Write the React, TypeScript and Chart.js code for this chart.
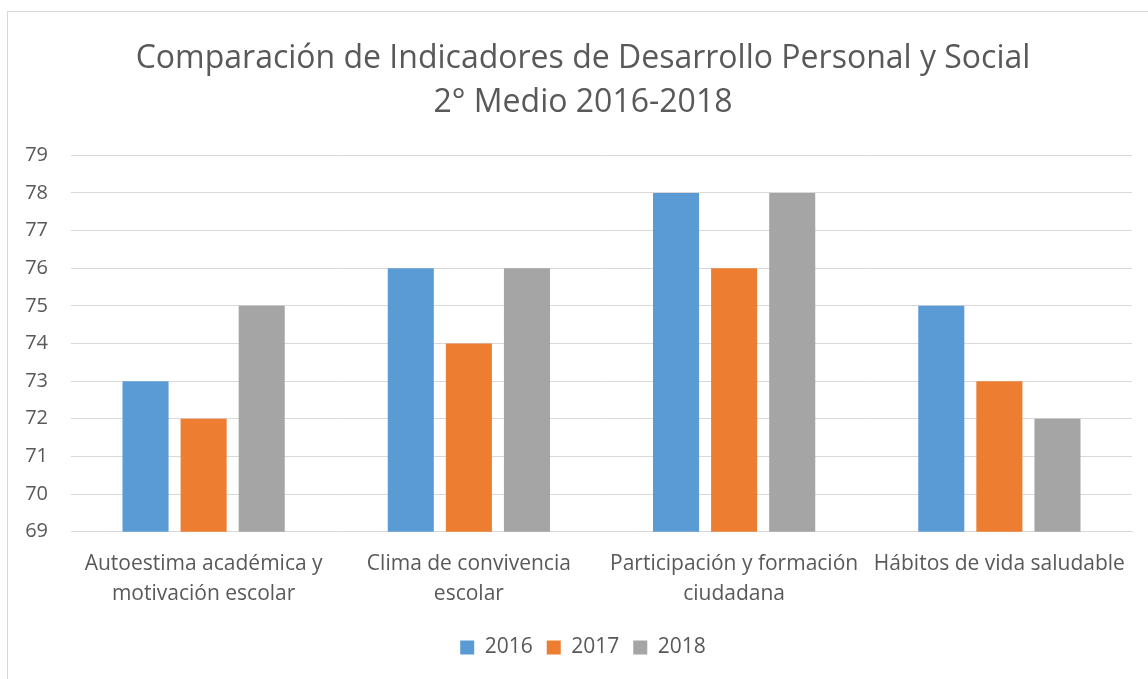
import React, { useEffect, useRef } from "react";
import { Chart, registerables } from "chart.js";

Chart.register(...registerables);

const titleLines = ["Comparación de Indicadores de Desarrollo Personal y Social", "2° Medio 2016-2018"];
const categories: string[][] = [
  ["Autoestima académica y", "motivación escolar"],
  ["Clima de convivencia", "escolar"],
  ["Participación y formación", "ciudadana"],
  ["Hábitos de vida saludable"],
];
const seriesNames = ["2016", "2017", "2018"];
const values2016 = [73, 76, 78, 75];
const values2017 = [72, 74, 76, 73];
const values2018 = [75, 76, 78, 72];
const yMin = 69;
const yMax = 79;

const colors = ["#5B9BD5", "#ED7D31", "#A5A5A5"];
const FONT = "'Open Sans', sans-serif";
const TEXT = "#595959";

export default function App() {
  const ref = useRef<HTMLCanvasElement>(null);
  useEffect(() => {
    document.body.style.margin = "0";
    const ctx = ref.current!;
    const chart = new Chart(ctx, {
      type: "bar",
      data: {
        labels: categories,
        datasets: [values2016, values2017, values2018].map((d, i) => ({
          label: seriesNames[i],
          data: d,
          backgroundColor: colors[i],
          borderWidth: 0,
          categoryPercentage: 0.657,
          barPercentage: 0.793,
        })),
      },
      options: {
        animation: false,
        responsive: false,
        devicePixelRatio: 1,
        layout: { padding: { left: 0, right: 0, top: 0, bottom: 11 } },
        plugins: {
          title: {
            display: true,
            text: titleLines,
            color: TEXT,
            font: { family: FONT, size: 32, weight: "normal", lineHeight: 1.38 },
            padding: { top: 37, bottom: 30 },
          },
          legend: {
            position: "bottom",
            labels: {
              color: TEXT,
              font: { family: FONT, size: 21 },
              boxWidth: 14,
              boxHeight: 14,
              padding: 14,
            },
          },
          tooltip: { enabled: false },
        },
        scales: {
          x: {
            grid: { display: false },
            border: { display: true, color: "#d9d9d9", width: 1 },
            afterFit: (s: any) => {
              s.height += 4.5;
            },
            ticks: {
              color: TEXT,
              font: { family: FONT, size: 21, lineHeight: 1.4 },
              maxRotation: 0,
              autoSkip: false,
              padding: 10,
            },
          },
          y: {
            min: yMin,
            max: yMax,
            afterFit: (s: any) => {
              s.width = 71;
            },
            grid: { color: "#d9d9d9", drawTicks: false },
            border: { display: false },
            ticks: {
              stepSize: 1,
              color: TEXT,
              font: { family: FONT, size: 20 },
              padding: 23,
            },
          },
          yRightSpace: {
            position: "right",
            display: true,
            grid: { display: false, drawTicks: false },
            border: { display: false },
            ticks: { display: false },
            afterFit: (s: any) => {
              s.width = 34;
            },
          },
        },
      },
    });
    return () => chart.destroy();
  }, []);
  return (
    <div style={{ position: "relative", width: 1148, height: 679, overflow: "hidden", background: "#fff" }}>
      <canvas ref={ref} width={1166} height={679} style={{ position: "absolute", left: 0, top: 0 }} />
      <div
        style={{
          position: "absolute",
          left: 7,
          top: 11,
          width: 1200,
          height: 700,
          border: "1px solid #d9d9d9",
          pointerEvents: "none",
        }}
      />
    </div>
  );
}
